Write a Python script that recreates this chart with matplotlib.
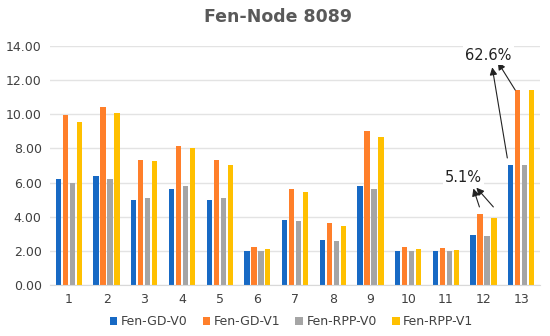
import numpy as np
import matplotlib.pyplot as plt

# node ids and four series
nodes = ['1', '2', '3', '4', '5', '6', '7', '8', '9', '10', '11', '12', '13']
gd_v0 = [6.20, 6.40, 5.00, 5.65, 5.00, 2.00, 3.80, 2.65, 5.78, 2.00, 2.00, 2.95, 7.02]
gd_v1 = [9.95, 10.40, 7.35, 8.15, 7.35, 2.20, 5.60, 3.62, 9.00, 2.20, 2.17, 4.15, 11.42]
rpp_v0 = [5.97, 6.22, 5.08, 5.82, 5.08, 2.00, 3.72, 2.58, 5.65, 2.00, 2.00, 2.85, 7.02]
rpp_v1 = [9.55, 10.05, 7.25, 8.00, 7.00, 2.08, 5.45, 3.45, 8.65, 2.08, 2.05, 3.95, 11.42]
series_names = ['Fen-GD-V0', 'Fen-GD-V1', 'Fen-RPP-V0', 'Fen-RPP-V1']
colors = ['#1769C4', '#FF7F2A', '#A5A5A5', '#FFC000']

fig = plt.figure(figsize=(5.5, 3.36), dpi=100)
ax = fig.add_axes([0.091, 0.152, 0.891, 0.711])

x = np.arange(len(nodes))
step = 0.185
width = 0.14
for i, (vals, name, c) in enumerate(zip([gd_v0, gd_v1, rpp_v0, rpp_v1], series_names, colors)):
    ax.bar(x + (i - 1.5) * step, vals, width=width, color=c, label=name, zorder=2)

ax.set_ylim(0, 14)
ax.set_xlim(-0.5, len(nodes) - 0.5)
ax.set_yticks(np.arange(0, 15, 2))
ax.set_yticklabels(['%.2f' % v for v in np.arange(0, 15, 2)])
ax.set_xticks(x)
ax.set_xticklabels(nodes)
ax.tick_params(length=0, labelsize=9, colors='#404040', pad=6)
ax.grid(axis='y', color='#E3E3E3', linewidth=1, zorder=0)
for s in ['top', 'right', 'left']:
    ax.spines[s].set_visible(False)
ax.spines['bottom'].set_color('#D9D9D9')

fig.text(0.505, 0.948, 'Fen-Node 8089', ha='center', va='center',
         fontsize=12.5, fontweight='semibold', color='#595959')

# annotations on nodes 12 and 13
box = dict(boxstyle='square,pad=0.15', fc='white', ec='none')
ax.text(11.13, 13.45, '62.6%', ha='center', va='center', fontsize=10.5, color='#222222', bbox=box, zorder=4)
ax.text(10.46, 6.27, '5.1%', ha='center', va='center', fontsize=10.5, color='#222222', bbox=box, zorder=4)
arrow = dict(arrowstyle='-|>', color='#222222', lw=0.8, mutation_scale=11, shrinkA=0, shrinkB=0)
ax.annotate('', xy=(11.23, 12.75), xytext=(11.63, 7.44), arrowprops=arrow, zorder=3)
ax.annotate('', xy=(11.38, 13.05), xytext=(11.84, 11.42), arrowprops=arrow, zorder=3)
ax.annotate('', xy=(10.73, 5.65), xytext=(10.89, 4.57), arrowprops=arrow, zorder=3)
ax.annotate('', xy=(10.81, 5.7), xytext=(11.26, 4.57), arrowprops=arrow, zorder=3)

fig.legend(loc='lower center', bbox_to_anchor=(0.53, -0.01), ncol=4, frameon=False,
           fontsize=9, handlelength=0.6, handleheight=0.6, handletextpad=0.3,
           columnspacing=1.2, labelcolor='#404040')

fig.savefig('out.png', dpi=100)
